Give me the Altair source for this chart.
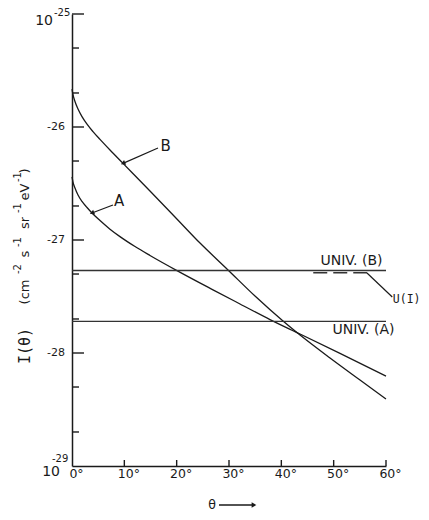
import altair as alt
import pandas as pd

# ---- data (theta in degrees, intensity as log10 exponent) ----
b_theta = [0, 0.19, 0.57, 1.15, 1.91, 2.87, 4.01, 5.35, 7.26, 9.75, 14.9, 19.68, 24.46,
           29.81, 34.97, 40.32, 43.57, 49.3, 55.03, 60]
b_exp = [-25.664, -25.713, -25.774, -25.841, -25.908, -25.975, -26.041, -26.110,
         -26.204, -26.322, -26.566, -26.796, -27.027, -27.265, -27.496, -27.717,
         -27.841, -28.044, -28.239, -28.407]
a_theta = [0, 0.19, 0.57, 1.15, 1.91, 2.87, 3.82, 5.35, 7.26, 9.17, 12.04, 14.9,
           20.06, 26.94, 32.1, 37.83, 43.57, 51.21, 60]
a_exp = [-26.442, -26.487, -26.540, -26.602, -26.659, -26.712, -26.761, -26.828,
         -26.904, -26.970, -27.058, -27.137, -27.271, -27.441, -27.566, -27.704,
         -27.832, -28.004, -28.204]
univ_names = ["UNIV. (B)", "UNIV. (A)"]
univ_exp = [-27.27, -27.72]
univ_theta = [0, 60]
ui_theta = [46.1, 56.4]
ui_exp = -27.29
x_ticks = [0, 10, 20, 30, 40, 50, 60]
y_major = [-25, -26, -27, -28]
y_minor_mult = [2, 5]
y_minor_dec = [-29, -28, -27, -26]
y_labels = [-26, -27, -28]

FONT = "DejaVu Sans"
MONO = "DejaVu Sans Mono"
INK = "#1a1a1a"

def p(e):
    return 10.0 ** e

curves = pd.DataFrame(
    [{"theta": t, "v": p(e), "c": "B"} for t, e in zip(b_theta, b_exp)]
    + [{"theta": t, "v": p(e), "c": "A"} for t, e in zip(a_theta, a_exp)]
)
univ = pd.DataFrame([{"theta": univ_theta[0], "theta2": univ_theta[1], "v": p(e), "n": n}
                     for n, e in zip(univ_names, univ_exp)])
ui = pd.DataFrame([{"theta": ui_theta[0], "theta2": ui_theta[1], "v": p(ui_exp)}])
major = pd.DataFrame({"v": [p(e) for e in y_major]})
minor = pd.DataFrame({"v": [m * p(d) for d in y_minor_dec for m in y_minor_mult]})
xt = pd.DataFrame({"theta": x_ticks[1:]})
ylab = pd.DataFrame({"v": [p(e) for e in y_labels], "t": ["-%d" % (-e) for e in y_labels]})

xs = alt.Scale(domain=[0, 60], nice=False, zero=False)
ys = alt.Scale(type="log", domain=[1e-29, 1e-25], nice=False)
xaxis = alt.Axis(values=x_ticks, labelExpr="datum.value + '°'", ticks=False, grid=False,
                 title=None, labelFont=FONT, labelFontSize=12.5, labelPadding=1,
                 labelOffset=4, labelColor=INK, domainColor=INK, domainWidth=1.5,
                 labelFlush=False)
yaxis = alt.Axis(ticks=False, labels=False, grid=False, title=None,
                 domainColor=INK, domainWidth=1.5)

def X(f="theta"):
    return alt.X(f + ":Q", scale=xs, axis=xaxis)

def Y(f="v"):
    return alt.Y(f + ":Q", scale=ys, axis=yaxis)

lines = alt.Chart(curves).mark_line(color=INK, strokeWidth=1.3, interpolate="monotone").encode(
    x=X(), y=Y(), detail="c:N")

univ_rules = alt.Chart(univ).mark_rule(color="#333", strokeWidth=1.4).encode(
    x=X(), x2="theta2:Q", y=Y())
ui_rule = alt.Chart(ui).mark_rule(color="#333", strokeWidth=1.6, strokeDash=[14, 6]).encode(
    x=X(), x2="theta2:Q", y=Y())

major_ticks = alt.Chart(major).mark_rule(color=INK, strokeWidth=1.4).encode(
    y=Y(), x=alt.value(0), x2=alt.value(12))
minor_ticks = alt.Chart(minor).mark_rule(color=INK, strokeWidth=1.4).encode(
    y=Y(), x=alt.value(0), x2=alt.value(7))
x_tick_rules = alt.Chart(xt).mark_rule(color=INK, strokeWidth=1.4).encode(
    x=X(), y=alt.value(452), y2=alt.value(446))

ylabels = alt.Chart(ylab).mark_text(font=FONT, fontSize=11, align="right", baseline="middle",
                                    color=INK).encode(y=Y(), x=alt.value(-7), text="t:N")

# annotations (data coordinates)
ann_lines = pd.DataFrame([
    {"theta": 16.43, "v": p(-26.186), "theta2": 9.75, "v2": p(-26.322)},   # B arrow
    {"theta": 7.83, "v": p(-26.690), "theta2": 3.82, "v2": p(-26.761)},    # A arrow
    {"theta": 56.37, "v": p(-27.292), "theta2": 61.2, "v2": p(-27.504)},   # U(I) leader
])
leaders = alt.Chart(ann_lines).mark_rule(color=INK, strokeWidth=1.2).encode(
    x=X(), y=Y(), x2="theta2:Q", y2="v2:Q")
headB = alt.Chart(pd.DataFrame([{"theta": 9.75, "v": p(-26.322)}])).mark_point(
    shape="triangle-up", filled=True, size=28, angle=246, color=INK, opacity=1,
    dx=3, dy=-1).encode(x=X(), y=Y())
headA = alt.Chart(pd.DataFrame([{"theta": 3.82, "v": p(-26.761)}])).mark_point(
    shape="triangle-up", filled=True, size=28, angle=248, color=INK, opacity=1,
    dx=3, dy=-1).encode(x=X(), y=Y())

labels = pd.DataFrame([
    {"theta": 17.9, "v": p(-26.168), "t": "B", "s": 15},
    {"theta": 9.0, "v": p(-26.655), "t": "A", "s": 15},
    {"theta": 53.41, "v": p(-27.186), "t": "UNIV. (B)", "s": 14},
    {"theta": 55.70, "v": p(-27.796), "t": "UNIV. (A)", "s": 14},
])
label_text = alt.Chart(labels).mark_text(font=FONT, baseline="middle", color=INK).encode(
    x=X(), y=Y(), text="t:N",
    size=alt.Size("s:Q", scale=None, legend=None))
ui_text = alt.Chart(pd.DataFrame([{"theta": 61.3, "v": p(-27.531), "t": "U(I)"}])).mark_text(
    font=MONO, fontSize=11.5, align="left", baseline="middle", color=INK).encode(
    x=X(), y=Y(), text="t:N")

# decade labels 10^-25 and 10^-29 (pixel offsets relative to the plot area)
dec = [
    ("10", -19, 7, 14, "right"),
    ("-25", -18, -1.5, 10, "left"),
    ("10", -12, 458, 14, "right"),
    ("-29", -20, 445, 10, "left"),
]
dec_layers = [alt.Chart(pd.DataFrame([{"k": 1}])).mark_text(
    font=FONT, fontSize=s, align=a, baseline="middle", color=INK, text=t).encode(
    x=alt.value(x), y=alt.value(y)) for t, x, y, s, a in dec]

# y title pieces (rotated)
title_pieces = [
    ("I(θ)", -47, 332, 15, MONO),
    ("(cm", -47, 278, 13, FONT),
    ("-2", -54.5, 255, 10, FONT),
    ("s", -47, 240, 13, FONT),
    ("-1", -54.5, 228, 10, FONT),
    ("sr", -47, 209, 13, FONT),
    ("-1", -54.5, 194, 10, FONT),
    ("eV", -47, 178, 13, FONT),
    ("-1", -54.5, 163, 10, FONT),
    (")", -47, 157, 13, FONT),
]
title_layers = [alt.Chart(pd.DataFrame([{"k": 1}])).mark_text(
    font=f, fontSize=s, angle=270, align="center", baseline="middle", color=INK, text=t).encode(
    x=alt.value(x), y=alt.value(y)) for t, x, y, s, f in title_pieces]

# x title: theta with arrow
xt_text = alt.Chart(pd.DataFrame([{"k": 1}])).mark_text(
    font=FONT, fontSize=12.5, align="center", baseline="middle", color=INK, text="θ").encode(
    x=alt.value(140), y=alt.value(491))
xt_arrow = alt.Chart(pd.DataFrame([{"k": 1}])).mark_rule(color=INK, strokeWidth=1.3).encode(
    x=alt.value(147), x2=alt.value(180), y=alt.value(491))
xt_head = alt.Chart(pd.DataFrame([{"k": 1}])).mark_point(
    shape="triangle-up", filled=True, size=30, angle=90, color=INK, opacity=1).encode(
    x=alt.value(182), y=alt.value(491))

chart = alt.layer(
    lines, univ_rules, ui_rule, major_ticks, minor_ticks, x_tick_rules, ylabels,
    leaders, headB, headA, label_text, ui_text, *dec_layers, *title_layers,
    xt_text, xt_arrow, xt_head
).properties(
    width=314, height=452,
    autosize=alt.AutoSizeParams(type="none"),
    padding={"left": 64, "top": 6, "right": 35, "bottom": 46},
    background="white",
).configure_view(stroke=None)

chart.save("out.html", embed_options={"renderer": "svg", "actions": False})
